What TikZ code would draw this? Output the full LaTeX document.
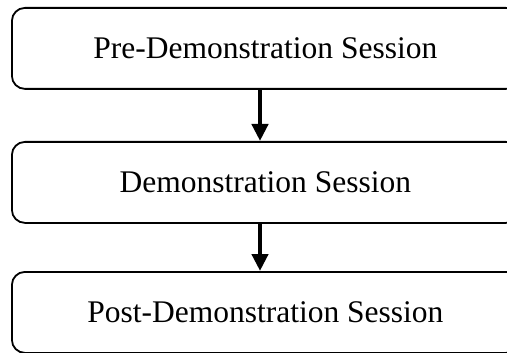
\documentclass[tikz,border=0pt]{standalone}
\usepackage{fontspec}
\setmainfont{Liberation Serif}
\usetikzlibrary{arrows.meta, positioning}

\begin{document}
\begin{tikzpicture}[x=1pt, y=1pt,
    sessionbox/.style={draw, line width=1.8pt, rounded corners=13pt,
      minimum width=507pt, minimum height=81pt, anchor=north west,
      font=\fontsize{31.5}{36}\selectfont},
    flowarrow/.style={line width=4.6pt,
      -{Triangle[width=16pt, length=17pt]}}]
  \useasboundingbox (0,0) rectangle (507,-353);
  \clip (0,0) rectangle (507,-353);

  % Sessions
  \node[sessionbox] (pre)  at (11,-7)   {Pre-Demonstration Session};
  \node[sessionbox] (demo) at (11,-141) {Demonstration Session};
  \node[sessionbox] (post) at (11,-271) {Post-Demonstration Session};

  % Arrows
  \coordinate (ax) at (260,0);
  \draw[flowarrow] (pre.south -| ax)  -- (demo.north -| ax);
  \draw[flowarrow] (demo.south -| ax) -- (post.north -| ax);
\end{tikzpicture}
\end{document}
